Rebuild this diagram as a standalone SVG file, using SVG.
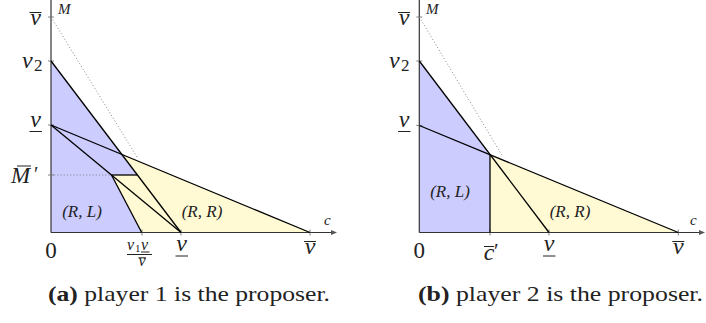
<svg xmlns="http://www.w3.org/2000/svg" width="706" height="323" viewBox="0 0 706 323">
<style>
.blue{fill:#ccccff;stroke:none}
.yel{fill:#fffad4;stroke:none}
.ln{stroke:#000;stroke-width:1.3;fill:none;stroke-linejoin:round}
.ax{stroke:#333;stroke-width:1.2;fill:none}
.tk{stroke:#666;stroke-width:0.8}
.dot{stroke:#777;stroke-width:0.9;stroke-dasharray:1 2.2;fill:none}
.m{font-family:'Liberation Serif','Times New Roman',Tinos,'Noto Serif','DejaVu Serif',serif;font-style:italic;fill:#222}
.n{font-family:'Liberation Serif','Times New Roman',Tinos,'Noto Serif','DejaVu Serif',serif;fill:#222}
.bar{stroke:#222;stroke-width:1}
.lab{font-size:24px}
.sm{font-size:15px}
.reg{font-size:17px}
</style>
<defs>
<marker id="arr" viewBox="0 0 6 6" refX="5" refY="3" markerWidth="6" markerHeight="6" orient="auto" markerUnits="userSpaceOnUse">
<path d="M0,0.6 L6,3 L0,5.4 z" fill="#555"/>
</marker>
</defs>

<g id="panel-a">
<g id="regions-a">
<polygon class="blue" points="51,61 137.4,175 111.5,175 141.7,232.5 51,232.5"/>
<polygon class="yel" points="121.8,154.4 310,232.5 141.7,232.5 111.5,175 137.4,175"/>
</g>
<g id="axes-a">
<line class="ax" x1="51" y1="232.5" x2="51" y2="0"/>
<line class="ax" x1="51" y1="232.5" x2="336" y2="232.5" marker-end="url(#arr)"/>
<line class="tk" x1="48" y1="17" x2="54" y2="17"/>
<line class="tk" x1="48" y1="61" x2="54" y2="61"/>
<line class="tk" x1="48" y1="125" x2="54" y2="125"/>
<line class="tk" x1="48" y1="175" x2="54" y2="175"/>
<line class="tk" x1="142" y1="229.5" x2="142" y2="235.5"/>
<line class="tk" x1="181" y1="229.5" x2="181" y2="235.5"/>
<line class="tk" x1="310" y1="229.5" x2="310" y2="235.5"/>
</g>
<g id="connectors-a">
<line class="dot" x1="51" y1="17" x2="137" y2="157"/>
<line class="dot" x1="51" y1="175" x2="111.5" y2="175"/>
<line class="ln" x1="51" y1="61" x2="181" y2="232.5"/>
<line class="ln" x1="51" y1="125" x2="310" y2="232.5"/>
<line class="ln" x1="51" y1="125" x2="181" y2="232.5"/>
<line class="ln" x1="111.5" y1="175" x2="137.4" y2="175"/>
<line class="ln" x1="111.5" y1="175" x2="141.7" y2="232.5"/>
</g>
<g id="labels-a">
<text class="m sm" x="58" y="14">M</text>
<text class="m lab" x="35.5" y="25" text-anchor="middle">v</text>
<line class="bar" x1="29.5" y1="12.5" x2="41.5" y2="12.5"/>
<text class="m lab" x="22" y="68">v</text>
<text class="n" font-size="17" x="34" y="71">2</text>
<text class="m lab" x="35.5" y="127" text-anchor="middle">v</text>
<line class="bar" x1="29.5" y1="131.5" x2="42" y2="131.5"/>
<text class="m" font-size="23" x="11" y="183">M</text>
<line class="bar" x1="17" y1="166" x2="31" y2="166"/>
<text class="n" font-size="20" x="34" y="181">′</text>
<text class="m reg" x="82" y="217" text-anchor="middle">(R, L)</text>
<text class="m reg" x="202" y="217" text-anchor="middle">(R, R)</text>
<text class="m sm" x="324" y="225">c</text>
<text class="n" font-size="23" x="51" y="258" text-anchor="middle">0</text>
<text class="m" font-size="16" x="127" y="250">v</text>
<text class="n" font-size="11" x="135" y="252">1</text>
<text class="m" font-size="16" x="141" y="250">v</text>
<line class="bar" x1="141" y1="252" x2="149.5" y2="252"/>
<line class="bar" x1="127" y1="254.5" x2="152" y2="254.5"/>
<text class="m" font-size="16" x="138.5" y="266">v</text>
<line class="bar" x1="138.5" y1="257.8" x2="146" y2="257.8"/>
<text class="m lab" x="181.5" y="251" text-anchor="middle">v</text>
<line class="bar" x1="175.5" y1="256" x2="188" y2="256"/>
<text class="m lab" x="310" y="254" text-anchor="middle">v</text>
<line class="bar" x1="304" y1="241.5" x2="316" y2="241.5"/>
</g>
</g>

<g id="panel-b">
<g id="regions-b">
<polygon class="blue" points="419.3,61 490,154.5 490,232.5 419.3,232.5"/>
<polygon class="yel" points="490,154.5 678.3,232.5 490,232.5"/>
</g>
<g id="axes-b">
<line class="ax" x1="419.3" y1="232.5" x2="419.3" y2="0"/>
<line class="ax" x1="419.3" y1="232.5" x2="704" y2="232.5" marker-end="url(#arr)"/>
<line class="tk" x1="416.3" y1="17" x2="422.3" y2="17"/>
<line class="tk" x1="416.3" y1="61" x2="422.3" y2="61"/>
<line class="tk" x1="416.3" y1="125.5" x2="422.3" y2="125.5"/>
<line class="tk" x1="490" y1="229.5" x2="490" y2="235.5"/>
<line class="tk" x1="549" y1="229.5" x2="549" y2="235.5"/>
<line class="tk" x1="678.3" y1="229.5" x2="678.3" y2="235.5"/>
</g>
<g id="connectors-b">
<line class="dot" x1="419.3" y1="17" x2="503" y2="157"/>
<line class="ln" x1="419.3" y1="61" x2="549" y2="232.5"/>
<line class="ln" x1="419.3" y1="125.5" x2="678.3" y2="232.5"/>
<line class="ln" x1="490" y1="154.5" x2="490" y2="232.5"/>
</g>
<g id="labels-b">
<text class="m sm" x="426" y="14">M</text>
<text class="m lab" x="404" y="25" text-anchor="middle">v</text>
<line class="bar" x1="398" y1="12.5" x2="410" y2="12.5"/>
<text class="m lab" x="389" y="68">v</text>
<text class="n" font-size="17" x="401" y="71">2</text>
<text class="m lab" x="404" y="127" text-anchor="middle">v</text>
<line class="bar" x1="398" y1="131.5" x2="410.5" y2="131.5"/>
<text class="m reg" x="450" y="197" text-anchor="middle">(R, L)</text>
<text class="m reg" x="570" y="217" text-anchor="middle">(R, R)</text>
<text class="m sm" x="690" y="225">c</text>
<text class="n" font-size="23" x="419.3" y="258" text-anchor="middle">0</text>
<text class="m lab" x="489" y="260" text-anchor="middle">c</text>
<line class="bar" x1="484" y1="246.5" x2="494" y2="246.5"/>
<text class="n" font-size="21" x="494" y="258">′</text>
<text class="m lab" x="549" y="251" text-anchor="middle">v</text>
<line class="bar" x1="543" y1="256" x2="555.5" y2="256"/>
<text class="m lab" x="678.3" y="254" text-anchor="middle">v</text>
<line class="bar" x1="672.3" y1="241.5" x2="684.3" y2="241.5"/>
</g>
</g>

<g id="captions">
<text class="n" font-size="22" x="48" y="301" textLength="282" lengthAdjust="spacingAndGlyphs"><tspan font-weight="bold">(a)</tspan> player 1 is the proposer.</text>
<text class="n" font-size="22" x="418" y="301" textLength="285" lengthAdjust="spacingAndGlyphs"><tspan font-weight="bold">(b)</tspan> player 2 is the proposer.</text>
</g>
</svg>
